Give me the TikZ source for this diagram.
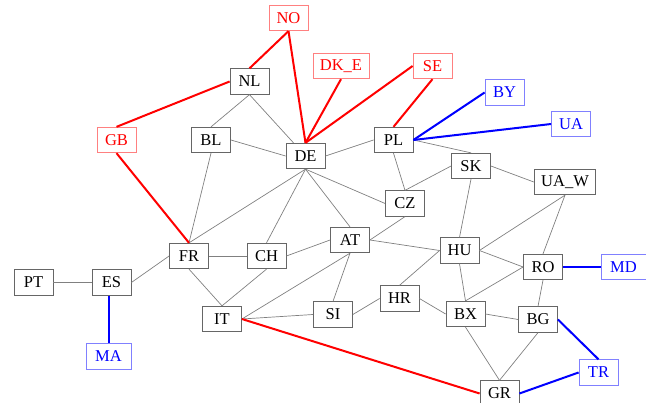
\documentclass[tikz,border=0pt]{standalone}
\usepackage{fontspec}
\setmainfont{Liberation Serif}
\usepackage{tikz}
\usetikzlibrary{positioning}

\begin{document}
\begin{tikzpicture}[x=1pt, y=-1pt,
countrynode/.style={rectangle, draw=black!60, thick, minimum width=39pt, minimum height=25.5pt, inner xsep=7pt, inner ysep=0pt, font=\fontsize{16.5}{18}\selectfont},
rednode/.style={countrynode, draw=red!50, text=red},
bluenode/.style={countrynode, draw=blue!50, text=blue},
grayline/.style={draw=black!50, line width=0.7pt},
redline/.style={draw=red, line width=2pt},
blueline/.style={draw=blue, line width=2pt},
]
\useasboundingbox (0,0) rectangle (646,403);

%Nodes
\node[rednode]     (no)   at (288.5,18)   {NO};
\node[countrynode] (nl)   at (249.5,81.5) {NL};
\node[rednode]     (gb)   at (116.5,140)  {GB};
\node[countrynode] (bl)   at (211,140)    {BL};
\node[countrynode] (de)   at (305.5,156)  {DE};
\node[rednode]     (dke)  at (341,66)     {DK\_E};
\node[rednode]     (se)   at (432.5,66)   {SE};
\node[bluenode]    (by)   at (504.5,92.5) {BY};
\node[bluenode]    (ua)   at (571,124)    {UA};
\node[countrynode] (pl)   at (393.5,140)  {PL};
\node[countrynode] (sk)   at (471,166)    {SK};
\node[countrynode] (uaw)  at (565,182)    {UA\_W};
\node[countrynode] (cz)   at (405,203.5)  {CZ};
\node[countrynode] (at)   at (350,240)    {AT};
\node[countrynode] (hu)   at (459.5,250.5){HU};
\node[countrynode] (ro)   at (543,267)    {RO};
\node[bluenode, minimum width=45pt] (md) at (623.5,267) {MD};
\node[countrynode] (hr)   at (399.5,298.5){HR};
\node[countrynode] (si)   at (333,314.5)  {SI};
\node[countrynode] (bx)   at (465.5,314)  {BX};
\node[countrynode] (bg)   at (538,319.5)  {BG};
\node[bluenode]    (tr)   at (598.5,372.5){TR};
\node[countrynode] (gr)   at (499.5,393.5){GR};
\node[countrynode] (fr)   at (189,256)    {FR};
\node[countrynode] (ch)   at (266.5,256)  {CH};
\node[countrynode] (pt)   at (33.5,282.5) {PT};
\node[countrynode] (es)   at (111.5,282.5){ES};
\node[bluenode, minimum width=45pt] (ma) at (108.5,356.5) {MA};
\node[countrynode] (it)   at (222,319)    {IT};

%Lines
\draw[grayline] (nl.south) -- (bl.north);
\draw[grayline] (nl.south) -- (de);
\draw[grayline] (bl.east) -- (de.west);
\draw[grayline] (bl.south) -- (fr.north);
\draw[grayline] (de.east) -- (pl.west);
\draw[grayline] (de.south) -- (fr.north);
\draw[grayline] (de.south) -- (ch.north);
\draw[grayline] (de.south) -- (at.north);
\draw[grayline] (de.south) -- (cz.west);
\draw[grayline] (pl.south) -- (cz.north);
\draw[grayline] (pl.east) -- (sk.north);
\draw[grayline] (sk.west) -- (cz.north);
\draw[grayline] (sk.east) -- (uaw.west);
\draw[grayline] (sk.south) -- (hu.north);
\draw[grayline] (uaw.south) -- (hu.east);
\draw[grayline] (uaw.south) -- (ro.north);
\draw[grayline] (cz.south) -- (at.east);
\draw[grayline] (at.east) -- (hu.west);
\draw[grayline] (at.west) -- (ch.east);
\draw[grayline] (at.south) -- (it.east);
\draw[grayline] (at.south) -- (si.north);
\draw[grayline] (fr.east) -- (ch.west);
\draw[grayline] (fr.south) -- (it.north);
\draw[grayline] (ch.south) -- (it.north);
\draw[grayline] (fr.west) -- (es.east);
\draw[grayline] (es.west) -- (pt.east);
\draw[grayline] (it.east) -- (si.west);
\draw[grayline] (si.east) -- (hr.west);
\draw[grayline] (hr.north) -- (hu.west);
\draw[grayline] (hr.east) -- (bx.west);
\draw[grayline] (hu.east) -- (ro.west);
\draw[grayline] (hu.south) -- (bx.north);
\draw[grayline] (ro.west) -- (bx.north);
\draw[grayline] (ro.south) -- (bg.north);
\draw[grayline] (bx.east) -- (bg.west);
\draw[grayline] (bx.south) -- (gr.north);
\draw[grayline] (bg.south) -- (gr.north);

\draw[redline] (no.south) -- (nl.north);
\draw[redline] (no.south) -- (de.north);
\draw[redline] (nl.west) -- (gb.north);
\draw[redline] (gb.south) -- (fr.north);
\draw[redline] (dke.south) -- (de.north);
\draw[redline] (se.west) -- (de.north);
\draw[redline] (se.south) -- (pl.north);
\draw[redline] (it.east) -- (gr.west);

\draw[blueline] (es.south -| ma.north) -- (ma.north);
\draw[blueline] (pl.east) -- (by.west);
\draw[blueline] (pl.east) -- (ua.west);
\draw[blueline] (ro.east) -- (md.west);
\draw[blueline] (bg.east) -- (tr.north);
\draw[blueline] (gr.east) -- (tr.west);
\end{tikzpicture}
\end{document}
